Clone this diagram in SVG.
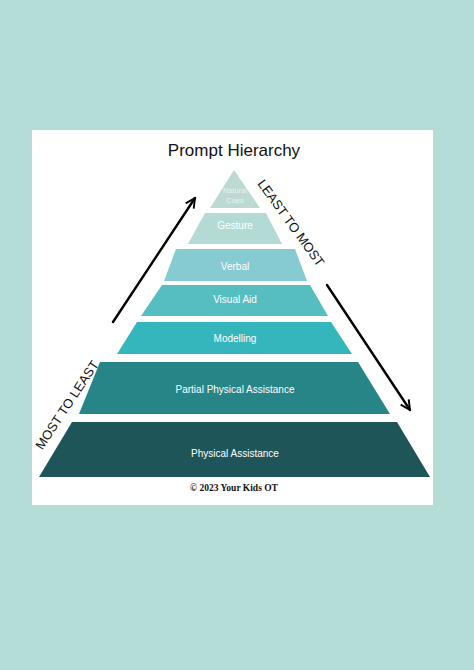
<svg xmlns="http://www.w3.org/2000/svg" width="474" height="670" viewBox="0 0 474 670">
<style>
.lbl{font-family:"Liberation Sans","DejaVu Sans",sans-serif;font-size:10px;fill:#ffffff;text-anchor:middle;dominant-baseline:central}
.side{font-family:"Liberation Sans","DejaVu Sans",sans-serif;font-size:13px;fill:#111111;text-anchor:middle;dominant-baseline:central}
.arrow{stroke:#000;stroke-width:2.4;fill:none;stroke-linecap:round}
</style>
<defs>
<marker id="ah" viewBox="0 0 10 10" refX="9" refY="5" markerWidth="5" markerHeight="5" orient="auto" markerUnits="strokeWidth">
<path d="M1,1 L9,5 L1,9" fill="none" stroke="#000" stroke-width="1.6" stroke-linejoin="miter"/>
</marker>
</defs>
<rect x="0" y="0" width="474" height="670" fill="#b3ddd6"/>
<rect x="32" y="130" width="401" height="375" fill="#ffffff"/>
<text x="234" y="156" font-family="'Liberation Sans','DejaVu Sans',sans-serif" font-size="17" fill="#111" text-anchor="middle">Prompt Hierarchy</text>

<g id="natural-cues">
<polygon points="234,170 260,208 210,208" fill="#bcdad3"/>
<text class="lbl" x="235" y="190" style="font-size:7.5px;fill:#eaf3f1">Natural</text>
<text class="lbl" x="235" y="200" style="font-size:7.5px;fill:#eaf3f1">Cues</text>
</g>
<g id="gesture">
<polygon points="205,213 266,213 282,244 188,244" fill="#b3dad5"/>
<text class="lbl" x="235" y="225">Gesture</text>
</g>
<g id="verbal">
<polygon points="176,249 295,249 307,281 164,281" fill="#85cbd1"/>
<text class="lbl" x="235" y="266">Verbal</text>
</g>
<g id="visual-aid">
<polygon points="162,285 310,285 328,316 141,316" fill="#56bdc1"/>
<text class="lbl" x="235" y="299">Visual Aid</text>
</g>
<g id="modelling">
<polygon points="137,322 331,322 352,354 117,354" fill="#35b5bc"/>
<text class="lbl" x="235" y="338">Modelling</text>
</g>
<g id="partial-physical">
<polygon points="100,362 358,362 390,414 79,414" fill="#278588"/>
<text class="lbl" x="235" y="389">Partial Physical Assistance</text>
</g>
<g id="physical">
<polygon points="72,422 397,422 430,477 39,477" fill="#1e5558"/>
<text class="lbl" x="235" y="453">Physical Assistance</text>
</g>

<g id="connectors">
<line class="arrow" x1="113" y1="322" x2="195" y2="198" marker-end="url(#ah)"/>
<line class="arrow" x1="327" y1="285" x2="410" y2="410" marker-end="url(#ah)"/>
</g>

<text class="side" transform="translate(291,223) rotate(54)">LEAST TO MOST</text>
<text class="side" transform="translate(67,405) rotate(-56.5)">MOST TO LEAST</text>

<text x="234" y="491" font-family="'Liberation Serif','DejaVu Serif',serif" font-weight="bold" font-size="9.5" fill="#111" text-anchor="middle">© 2023 Your Kids OT</text>
</svg>
